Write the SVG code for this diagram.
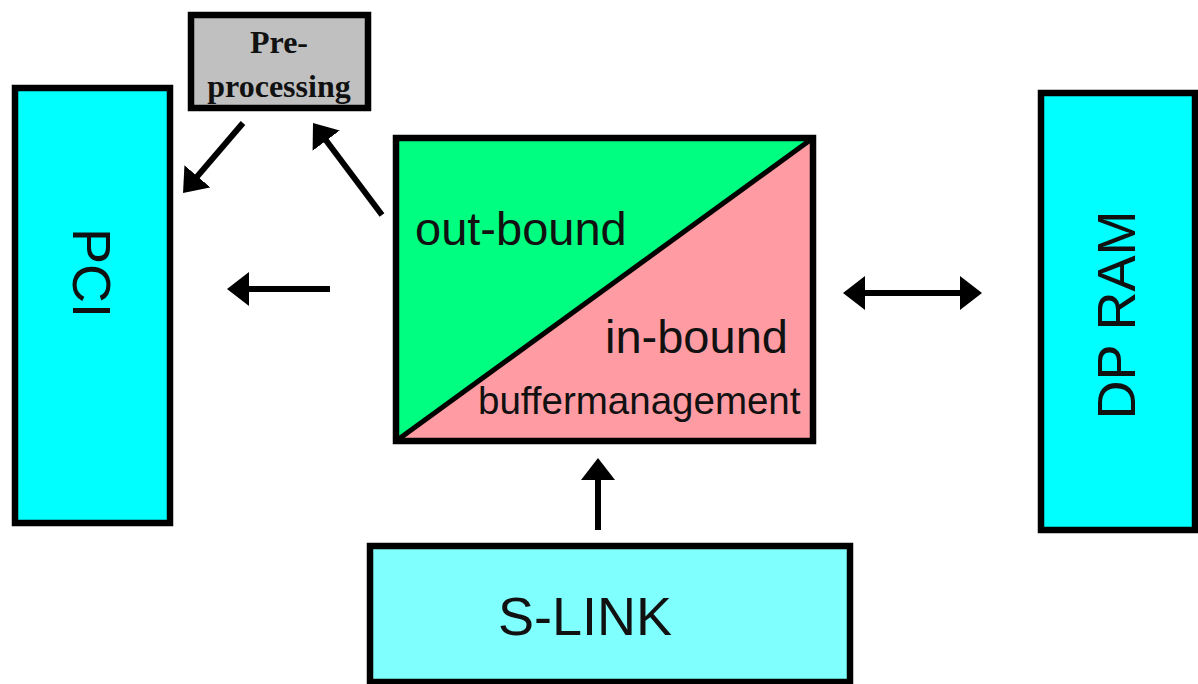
<svg xmlns="http://www.w3.org/2000/svg" width="1198" height="684" viewBox="0 0 1198 684">
  <style>
    .box { stroke: #000; stroke-width: 6.5; }
    .sans { font-family: "Liberation Sans", Arial, sans-serif; fill: #111; }
    .serif { font-family: "Liberation Serif", "Times New Roman", serif; font-weight: bold; fill: #111; }
    .link { stroke: #000; stroke-width: 6; fill: none; }
  </style>
  <defs>
    <marker id="head" viewBox="0 0 22 34" refX="7" refY="17" markerWidth="22" markerHeight="34" markerUnits="userSpaceOnUse" orient="auto-start-reverse">
      <path d="M0,0 L22,17 L0,34 Z" fill="#000"/>
    </marker>
  </defs>
  <rect width="1198" height="684" fill="#fff"/>

  <g id="pci">
    <rect class="box" x="15" y="88" width="155" height="435" fill="#00ffff"/>
    <text class="sans" font-size="54" text-anchor="middle" transform="translate(92,273) rotate(90)" y="19">PCI</text>
  </g>

  <g id="preprocessing">
    <rect class="box" x="191" y="15" width="177" height="93" fill="#c0c0c0"/>
    <text class="serif" font-size="32" text-anchor="middle" x="279" y="53">Pre-</text>
    <text class="serif" font-size="32" text-anchor="middle" x="279" y="97">processing</text>
  </g>

  <g id="buffer">
    <polygon points="396,138 813,138 396,441" fill="#00ff80"/>
    <polygon points="813,138 813,441 396,441" fill="#ff9ca3"/>
    <line x1="396" y1="441" x2="813" y2="138" stroke="#000" stroke-width="5"/>
    <rect class="box" x="396" y="138" width="417" height="303" fill="none"/>
    <text class="sans" font-size="47" x="415" y="245">out-bound</text>
    <text class="sans" font-size="47" x="605" y="353">in-bound</text>
    <text class="sans" font-size="38.5" x="478" y="414">buffermanagement</text>
  </g>

  <g id="dpram">
    <rect class="box" x="1041" y="93" width="154" height="437" fill="#00ffff"/>
    <text class="sans" font-size="54" text-anchor="middle" transform="translate(1116,315) rotate(-90)" y="19">DP RAM</text>
  </g>

  <g id="slink">
    <rect class="box" x="370" y="546" width="480" height="136" fill="#80ffff"/>
    <text class="sans" font-size="54" text-anchor="middle" x="585" y="635">S-LINK</text>
  </g>

  <g id="connectors">
    <line class="link" x1="330" y1="289" x2="242" y2="289" marker-end="url(#head)"/>
    <line class="link" x1="858" y1="293" x2="967" y2="293" marker-start="url(#head)" marker-end="url(#head)"/>
    <line class="link" x1="598" y1="530" x2="598" y2="473" marker-end="url(#head)"/>
    <line class="link" x1="243" y1="123" x2="192.8" y2="181.6" marker-end="url(#head)"/>
    <line class="link" x1="382" y1="215" x2="322" y2="135" marker-end="url(#head)"/>
  </g>
</svg>
